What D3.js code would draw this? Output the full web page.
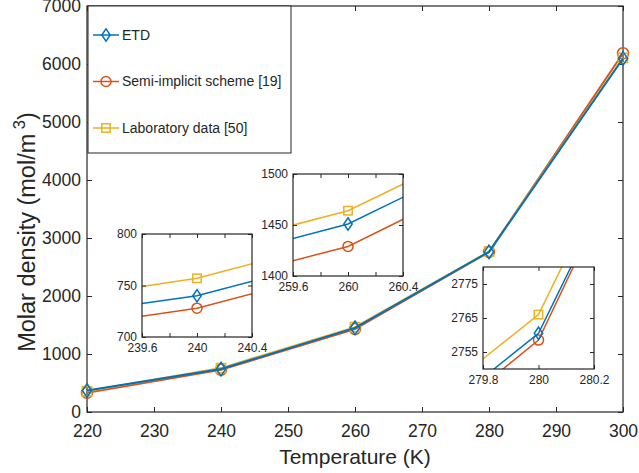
<!DOCTYPE html>
<html>
<head>
<meta charset="utf-8">
<script src="https://cdn.jsdelivr.net/npm/d3@7"></script>
<style>
  body { margin: 0; background: #fff; }
  text { font-family: "Liberation Sans", Arial, sans-serif; fill: #262626; }
</style>
</head>
<body>
<div id="chart"></div>
<script>
// data
var temps = [220, 240, 260, 280, 300];
var etd = [370, 740, 1451, 2760.5, 6095];
var semi = [330, 728, 1429, 2758.5, 6185];
var lab = [357, 757, 1464, 2766, 6105];

var xTicks = [220, 230, 240, 250, 260, 270, 280, 290, 300];
var yTicks = [0, 1000, 2000, 3000, 4000, 5000, 6000, 7000];

var seriesNames = ["ETD", "Semi-implicit scheme [19]", "Laboratory data [50]"];

// zoom windows
var inset1X = [239.6, 240.4], inset1Y = [700, 800];
var inset1XTicks = [239.6, 239.8, 240, 240.2, 240.4], inset1XLabels = ["239.6", "", "240", "", "240.4"];
var inset1YTicks = [700, 750, 800];
var inset2X = [259.6, 260.4], inset2Y = [1400, 1500];
var inset2XTicks = [259.6, 259.8, 260, 260.2, 260.4], inset2XLabels = ["259.6", "", "260", "", "260.4"];
var inset2YTicks = [1400, 1450, 1500];
var inset3X = [279.8, 280.2], inset3Y = [2750, 2780];
var inset3XTicks = [279.8, 280, 280.2], inset3XLabels = ["279.8", "280", "280.2"];
var inset3YTicks = [2755, 2765, 2775];

var W = 639, H = 473;
var margin = { top: 6, right: 16, bottom: 61, left: 87 },
    width = W - margin.left - margin.right,
    height = H - margin.top - margin.bottom;

var colors = { etd: "#0072BD", semi: "#D95319", lab: "#EDB120" };

// draw order: semi, lab, etd on top
var series = [
  { key: "semi", values: semi, color: colors.semi, marker: "circle" },
  { key: "lab", values: lab, color: colors.lab, marker: "square" },
  { key: "etd", values: etd, color: colors.etd, marker: "diamond" }
];

var svg = d3.select("#chart")
  .append("svg")
  .attr("width", W)
  .attr("height", H);

var g = svg.append("g")
  .attr("transform", "translate(" + margin.left + "," + margin.top + ")");

var x = d3.scaleLinear().domain([220, 300]).range([0, width]);
var y = d3.scaleLinear().domain([0, 7000]).range([height, 0]);

function drawMarker(sel, type, size, color) {
  if (type === "circle") {
    sel.append("circle").attr("r", size * 0.5);
  } else if (type === "square") {
    sel.append("rect")
      .attr("x", -size * 0.42).attr("y", -size * 0.42)
      .attr("width", size * 0.84).attr("height", size * 0.84);
  } else {
    var w = size * 0.42, h = size * 0.62;
    sel.append("path").attr("d", "M0," + (-h) + "L" + w + ",0L0," + h + "L" + (-w) + ",0Z");
  }
  sel.selectAll("*")
    .attr("fill", "none")
    .attr("stroke", color)
    .attr("stroke-width", 1.5);
}

function drawSeries(target, xs, ys, lw, msize) {
  var line = d3.line()
    .x(function(d, i) { return xs(temps[i]); })
    .y(function(d) { return ys(d); });
  series.forEach(function(s) {
    target.append("path")
      .datum(s.values)
      .attr("d", line)
      .attr("fill", "none")
      .attr("stroke", s.color)
      .attr("stroke-width", lw);
    target.selectAll(".m-" + s.key)
      .data(s.values)
      .enter()
      .append("g")
      .attr("class", "m-" + s.key)
      .attr("transform", function(d, i) { return "translate(" + xs(temps[i]) + "," + ys(d) + ")"; })
      .each(function() { drawMarker(d3.select(this), s.marker, msize, s.color); });
  });
}

// main axes
var axisColor = "#262626";
g.append("g")
  .attr("transform", "translate(0," + height + ")")
  .call(d3.axisBottom(x).tickValues(xTicks).tickFormat(d3.format("d")).tickSizeInner(-5).tickSizeOuter(0).tickPadding(13))
  .call(function(a) { a.select(".domain").remove(); a.selectAll("line").attr("stroke", axisColor); a.selectAll("text").style("font-size", "17.5px").attr("fill", axisColor).style("font-family", "Liberation Sans, Arial, sans-serif"); });
g.append("g")
  .call(d3.axisTop(x).tickValues(xTicks).tickFormat("").tickSizeInner(-5).tickSizeOuter(0))
  .call(function(a) { a.select(".domain").remove(); a.selectAll("line").attr("stroke", axisColor); });
g.append("g")
  .call(d3.axisLeft(y).tickValues(yTicks).tickFormat(d3.format("d")).tickSizeInner(-5).tickSizeOuter(0).tickPadding(6))
  .call(function(a) { a.select(".domain").remove(); a.selectAll("line").attr("stroke", axisColor); a.selectAll("text").style("font-size", "17.5px").attr("fill", axisColor).style("font-family", "Liberation Sans, Arial, sans-serif"); });
g.append("g")
  .attr("transform", "translate(" + width + ",0)")
  .call(d3.axisRight(y).tickValues(yTicks).tickFormat("").tickSizeInner(-5).tickSizeOuter(0))
  .call(function(a) { a.select(".domain").remove(); a.selectAll("line").attr("stroke", axisColor); });

g.append("rect")
  .attr("width", width).attr("height", height)
  .attr("fill", "none").attr("stroke", axisColor).attr("stroke-width", 1.2);

drawSeries(g, x, y, 2, 11);

// axis titles
svg.append("text")
  .attr("x", margin.left + width / 2)
  .attr("y", 464)
  .attr("text-anchor", "middle")
  .style("font-size", "21px")
  .text("Temperature (K)");

var yl = svg.append("text")
  .attr("transform", "translate(35,232) rotate(-90)")
  .attr("text-anchor", "middle")
  .style("font-size", "23.5px");
yl.append("tspan").text("Molar density (mol/m");
yl.append("tspan").attr("dy", -10).style("font-size", "16.5px").text(" 3");
yl.append("tspan").attr("dy", 10).text(")");

// legend
var legend = g.append("g").attr("transform", "translate(1,0)");
legend.append("rect")
  .attr("width", 203).attr("height", 147)
  .attr("fill", "#fff").attr("stroke", axisColor).attr("stroke-width", 1);
var legendItems = [
  { name: seriesNames[0], color: colors.etd, marker: "diamond" },
  { name: seriesNames[1], color: colors.semi, marker: "circle" },
  { name: seriesNames[2], color: colors.lab, marker: "square" }
];
legendItems.forEach(function(d, i) {
  var row = legend.append("g").attr("transform", "translate(0," + (29 + i * 46.5) + ")");
  row.append("line")
    .attr("x1", 5).attr("x2", 31)
    .attr("stroke", d.color).attr("stroke-width", 1.5);
  var m = row.append("g").attr("transform", "translate(18,0)");
  drawMarker(m, d.marker, 10, d.color);
  row.append("text")
    .attr("x", 34).attr("dy", "0.35em")
    .style("font-size", "14px")
    .text(d.name);
});

// insets
function drawInset(id, left, top, w, h, xd, yd, xt, xl, yt) {
  var ig = svg.append("g").attr("transform", "translate(" + left + "," + top + ")");
  var ix = d3.scaleLinear().domain(xd).range([0, w]);
  var iy = d3.scaleLinear().domain(yd).range([h, 0]);
  ig.append("rect").attr("width", w).attr("height", h).attr("fill", "#fff");
  svg.append("clipPath").attr("id", id).append("rect").attr("width", w).attr("height", h);
  var plot = ig.append("g").attr("clip-path", "url(#" + id + ")");
  drawSeries(plot, ix, iy, 1.5, 10);

  ig.append("g")
    .attr("transform", "translate(0," + h + ")")
    .call(d3.axisBottom(ix).tickValues(xt).tickFormat(function(d, i) { return xl[i]; }).tickSizeInner(-4).tickSizeOuter(0).tickPadding(6))
    .call(function(a) { a.select(".domain").remove(); a.selectAll("line").attr("stroke", axisColor); a.selectAll("text").style("font-size", "12px").attr("fill", axisColor).style("font-family", "Liberation Sans, Arial, sans-serif"); });
  ig.append("g")
    .call(d3.axisTop(ix).tickValues(xt).tickFormat("").tickSizeInner(-4).tickSizeOuter(0))
    .call(function(a) { a.select(".domain").remove(); a.selectAll("line").attr("stroke", axisColor); });
  ig.append("g")
    .call(d3.axisLeft(iy).tickValues(yt).tickFormat(d3.format("d")).tickSizeInner(-4).tickSizeOuter(0).tickPadding(5))
    .call(function(a) { a.select(".domain").remove(); a.selectAll("line").attr("stroke", axisColor); a.selectAll("text").style("font-size", "12px").attr("fill", axisColor).style("font-family", "Liberation Sans, Arial, sans-serif"); });
  ig.append("g")
    .attr("transform", "translate(" + w + ",0)")
    .call(d3.axisRight(iy).tickValues(yt).tickFormat("").tickSizeInner(-4).tickSizeOuter(0))
    .call(function(a) { a.select(".domain").remove(); a.selectAll("line").attr("stroke", axisColor); });
  ig.append("rect").attr("width", w).attr("height", h)
    .attr("fill", "none").attr("stroke", axisColor).attr("stroke-width", 1.2);
}

drawInset("clip1", 142, 234, 110, 103, inset1X, inset1Y, inset1XTicks, inset1XLabels, inset1YTicks);
drawInset("clip2", 293, 174, 110, 102, inset2X, inset2Y, inset2XTicks, inset2XLabels, inset2YTicks);
drawInset("clip3", 483, 267, 111, 102, inset3X, inset3Y, inset3XTicks, inset3XLabels, inset3YTicks);
</script>
</body>
</html>
